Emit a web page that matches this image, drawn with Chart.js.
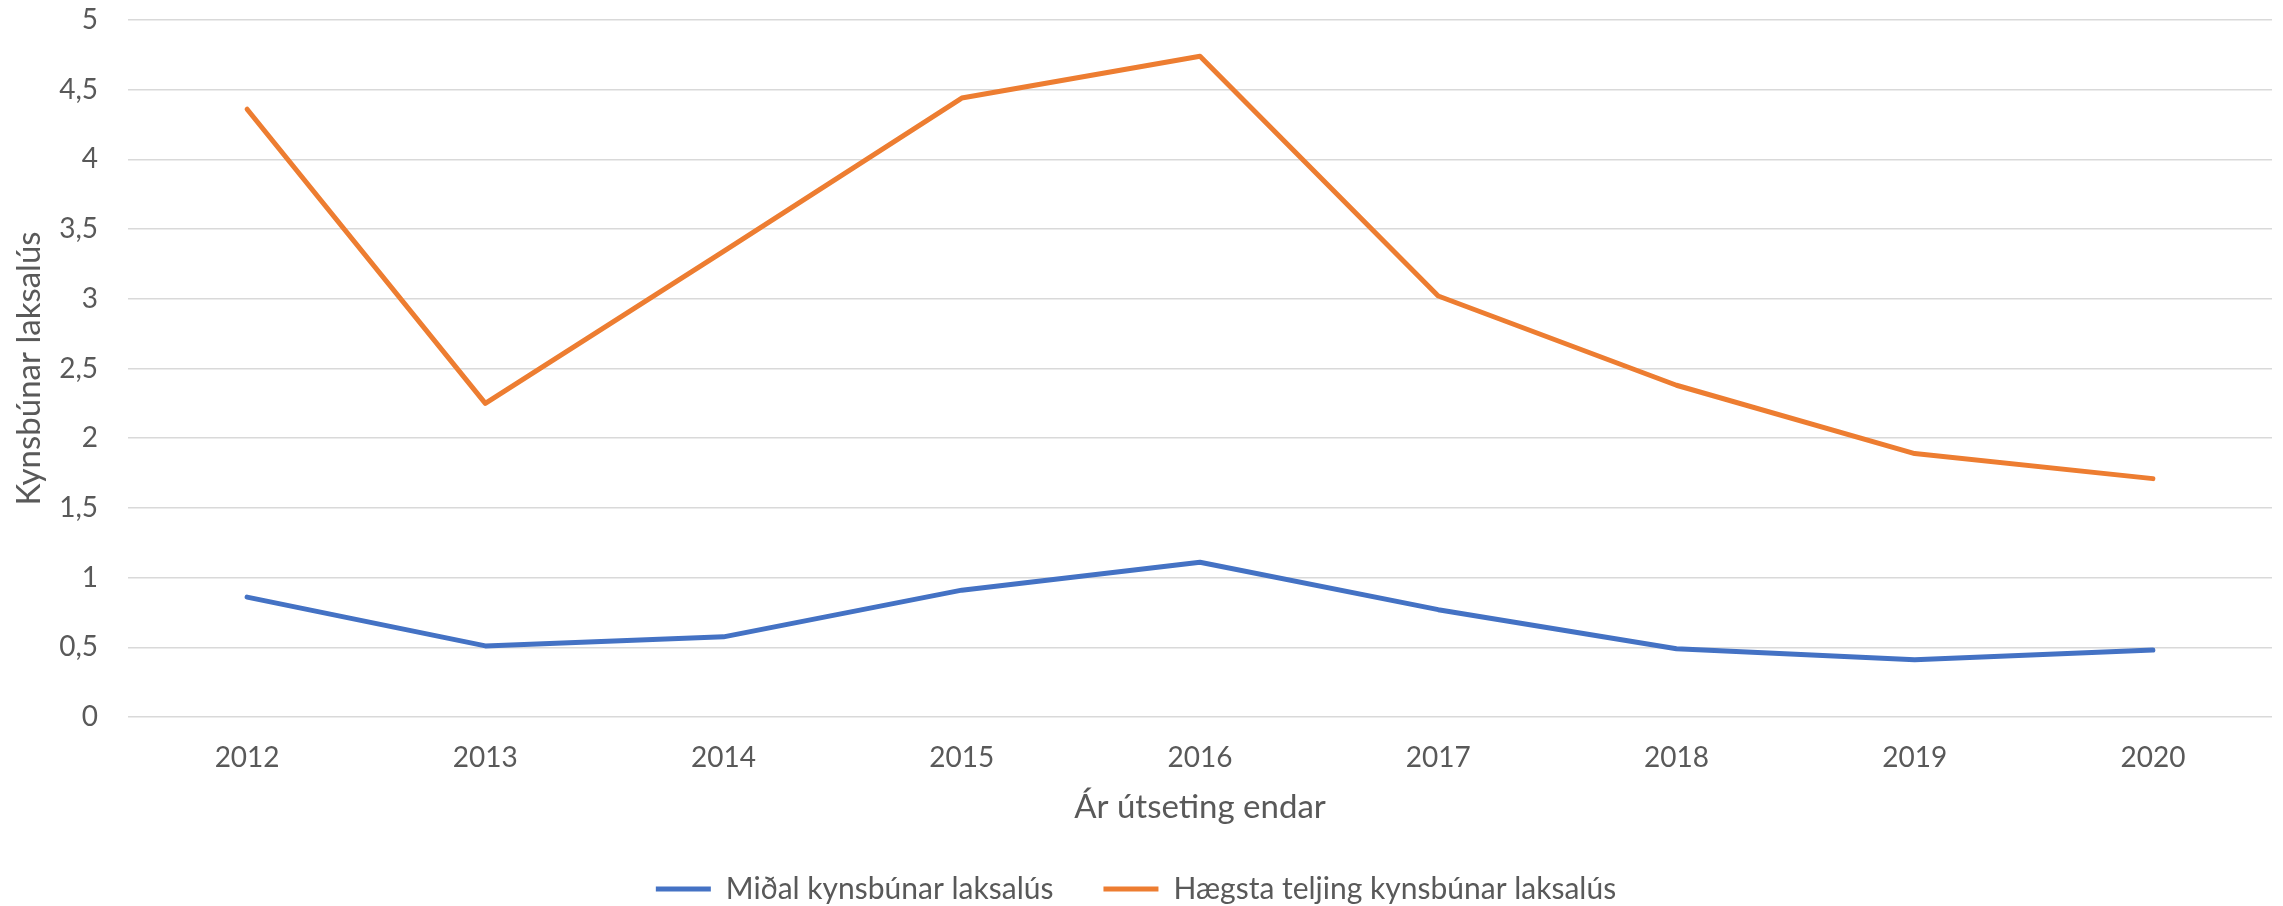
<!DOCTYPE html>
<html>
<head>
<meta charset="utf-8">
<script src="https://cdn.jsdelivr.net/npm/chart.js@4.4.1/dist/chart.umd.min.js"></script>
<style>
  html, body { margin: 0; padding: 0; background: #ffffff; }
  #wrap { width: 2283px; height: 906px; position: relative; }
</style>
</head>
<body>
<div id="wrap"><canvas id="c" width="2283" height="906"></canvas></div>
<script>
const categories = ['2012', '2013', '2014', '2015', '2016', '2017', '2018', '2019', '2020'];
const midalValues = [0.86, 0.51, 0.575, 0.91, 1.11, 0.77, 0.49, 0.41, 0.48];
const haegstaValues = [4.36, 2.25, 3.34, 4.44, 4.74, 3.02, 2.38, 1.89, 1.71];
const seriesNames = ['Miðal kynsbúnar laksalús', 'Hægsta teljing kynsbúnar laksalús'];
const yTickLabels = ['0', '0,5', '1', '1,5', '2', '2,5', '3', '3,5', '4', '4,5', '5'];
const yAxisTitle = 'Kynsbúnar laksalús';
const xAxisTitle = 'Ár útseting endar';

const FONT = 'Lato, "Open Sans", "Liberation Sans", sans-serif';
const TXT = '#595959';

new Chart(document.getElementById('c'), {
  type: 'line',
  data: {
    labels: categories,
    datasets: [
      {
        label: seriesNames[0],
        data: midalValues,
        borderColor: '#4472C4',
        backgroundColor: '#4472C4',
        borderWidth: 5,
        pointRadius: 0,
        borderCapStyle: 'round',
        borderJoinStyle: 'round',
        tension: 0
      },
      {
        label: seriesNames[1],
        data: haegstaValues,
        borderColor: '#ED7D31',
        backgroundColor: '#ED7D31',
        borderWidth: 5,
        pointRadius: 0,
        borderCapStyle: 'round',
        borderJoinStyle: 'round',
        tension: 0
      }
    ]
  },
  options: {
    responsive: false,
    animation: false,
    devicePixelRatio: 1,
    layout: { padding: { top: 20, right: 11, left: 0, bottom: -8 } },
    plugins: {
      legend: {
        position: 'bottom',
        labels: {
          font: { family: FONT, size: 30 },
          color: TXT,
          usePointStyle: true,
          pointStyle: 'line',
          pointStyleWidth: 55,
          padding: 50
        }
      },
      tooltip: { enabled: false }
    },
    scales: {
      x: {
        type: 'category',
        offset: true,
        grid: { display: false, drawTicks: false },
        border: { display: false },
        ticks: { font: { family: FONT, size: 28 }, color: TXT, padding: 24 },
        title: {
          display: true,
          text: xAxisTitle,
          font: { family: FONT, size: 33 },
          color: TXT,
          padding: { top: 0, bottom: -3 }
        },
        afterFit: s => { s.height = 107; }
      },
      y: {
        min: 0,
        max: 5,
        ticks: {
          stepSize: 0.5,
          font: { family: FONT, size: 28 },
          color: TXT,
          padding: 30,
          callback: (v, i) => yTickLabels[i]
        },
        grid: { color: '#D9D9D9', lineWidth: 1.5, drawTicks: false },
        border: { display: false },
        title: {
          display: true,
          text: yAxisTitle,
          font: { family: FONT, size: 33 },
          color: TXT,
          padding: { top: 10, bottom: 0 }
        },
        afterFit: s => { s.width = 128; s.paddingTop = 10; s.paddingBottom = 10; }
      }
    }
  }
});
</script>
</body>
</html>
